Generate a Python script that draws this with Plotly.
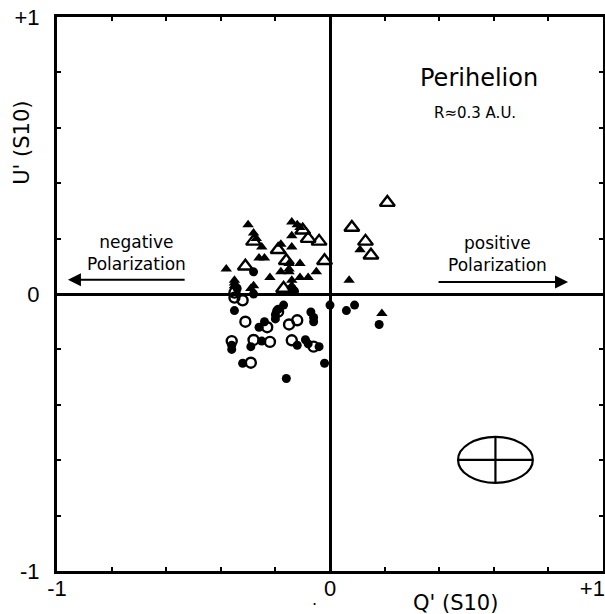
import plotly.graph_objects as go

# ---- data (Q', U') ----
open_tri_q = [0.21, 0.08, 0.13, 0.15, -0.28, -0.10, -0.08, -0.04, -0.19, -0.16, -0.02, -0.31, -0.17]
open_tri_u = [0.33, 0.24, 0.19, 0.14, 0.19, 0.23, 0.20, 0.19, 0.16, 0.12, 0.12, 0.10, 0.02]

fill_tri_q = [-0.30, -0.28, -0.27, -0.25, -0.14, -0.14, -0.12, -0.11, -0.18, -0.14, -0.26, -0.24,
              -0.15, -0.11, -0.38, -0.18, -0.15, -0.22, -0.14, -0.11, -0.08, -0.05, -0.35, -0.35,
              -0.28, -0.29, 0.11, 0.07, 0.19, -0.15, -0.14, -0.35]
fill_tri_u = [0.25, 0.22, 0.20, 0.17, 0.21, 0.26, 0.25, 0.24, 0.18, 0.17, 0.13, 0.13,
              0.11, 0.11, 0.09, 0.08, 0.08, 0.06, 0.05, 0.06, 0.06, 0.08, 0.05, 0.03,
              0.03, 0.02, 0.16, 0.05, -0.07, 0.09, 0.03, 0.04]

fill_circ_q = [-0.28, -0.34, -0.28, -0.14, -0.13, -0.35, -0.17, -0.19, -0.20, -0.20, -0.07, -0.06,
               0.00, 0.06, 0.09, 0.18, -0.24, -0.26, -0.36, -0.29, -0.25, -0.12, -0.09, -0.08,
               -0.04, -0.32, -0.02, -0.16, -0.36, -0.06]
fill_circ_u = [0.08, 0.02, 0.00, 0.02, 0.01, -0.06, -0.04, -0.055, -0.075, -0.09, -0.065, -0.085,
               -0.04, -0.06, -0.04, -0.11, -0.10, -0.12, -0.20, -0.19, -0.17, -0.185, -0.165, -0.18,
               -0.19, -0.25, -0.25, -0.305, -0.185, -0.10]

open_circ_q = [-0.35, -0.32, -0.35, -0.31, -0.23, -0.19, -0.15, -0.12, -0.36, -0.28, -0.22, -0.14,
               -0.06, -0.29]
open_circ_u = [-0.013, -0.023, 0.005, -0.10, -0.12, -0.064, -0.11, -0.095, -0.17, -0.166, -0.173, -0.167,
               -0.19, -0.248]

tick_vals = [-1, -0.8, -0.6, -0.4, -0.2, 0, 0.2, 0.4, 0.6, 0.8, 1]
x_tick_text = ["-1", "", "", "", "", "0", "", "", "", "", "+1<span style='color:rgba(0,0,0,0)'>11</span>"]
y_tick_text = ["-1", "", "", "", "", "0", "", "", "", "", "+1"]

# error ellipse (centre, half-axes)
ell_q, ell_u, ell_rq, ell_ru = 0.606, -0.599, 0.137, 0.083

TICKFONT = "Liberation Sans"
FONT = "DejaVu Sans"

fig = go.Figure()
fig.add_trace(go.Scatter(x=open_tri_q, y=open_tri_u, mode="markers",
                         marker=dict(symbol="triangle-up-open", size=13, color="black",
                                     line=dict(width=2.4, color="black"))))
fig.add_trace(go.Scatter(x=fill_tri_q, y=fill_tri_u, mode="markers",
                         marker=dict(symbol="triangle-up", size=10, color="black")))
fig.add_trace(go.Scatter(x=fill_circ_q, y=fill_circ_u, mode="markers",
                         marker=dict(symbol="circle", size=9, color="black")))
fig.add_trace(go.Scatter(x=open_circ_q, y=open_circ_u, mode="markers",
                         marker=dict(symbol="circle-open", size=10, color="black",
                                     line=dict(width=2.4, color="black"))))

axis_common = dict(range=[-1, 1], tickvals=tick_vals, automargin=False,
                   ticks="inside", ticklen=4, tickwidth=2, tickcolor="black",
                   showline=True, linewidth=3, linecolor="black", mirror="ticks",
                   showgrid=False, zeroline=True, zerolinecolor="black", zerolinewidth=2.5,
                   ticklabeloverflow="allow",
                   tickfont=dict(family=TICKFONT, size=22, color="black"))

fig.update_xaxes(**axis_common, ticktext=x_tick_text, ticklabelstandoff=-4)
fig.update_yaxes(**axis_common, ticktext=y_tick_text, ticklabelstandoff=10)

shapes = [
    dict(type="circle", xref="x", yref="y", x0=ell_q - ell_rq, x1=ell_q + ell_rq,
         y0=ell_u - ell_ru, y1=ell_u + ell_ru, line=dict(color="black", width=2.2)),
    dict(type="line", xref="x", yref="y", x0=ell_q - ell_rq, x1=ell_q + ell_rq,
         y0=ell_u, y1=ell_u, line=dict(color="black", width=2.2)),
    dict(type="line", xref="x", yref="y", x0=ell_q, x1=ell_q,
         y0=ell_u - ell_ru, y1=ell_u + ell_ru, line=dict(color="black", width=2.2)),
]

C = dict(xanchor="center", yanchor="middle", showarrow=False)
annotations = [
    dict(x=0.546, y=0.78, xref="x", yref="y", text="Perihelion",
         font=dict(family=FONT, size=24, color="black"), **C),
    dict(x=0.531, y=0.653, xref="x", yref="y", text="R≈0.3 A.U.",
         font=dict(family=FONT, size=15, color="black"), **C),
    dict(x=-0.71, y=0.148, xref="x", yref="y", text="negative<br>Polarization",
         font=dict(family=FONT, size=17, color="black"), **C),
    dict(x=0.615, y=0.144, xref="x", yref="y", text="positive<br>Polarization",
         font=dict(family=FONT, size=17, color="black"), **C),
    dict(x=-0.96, y=0.051, ax=-0.527, ay=0.051, xref="x", yref="y", axref="x", ayref="y",
         text="", showarrow=True, arrowhead=2, arrowsize=1.3, arrowwidth=2, arrowcolor="black"),
    dict(x=0.872, y=0.043, ax=0.392, ay=0.043, xref="x", yref="y", axref="x", ayref="y",
         text="", showarrow=True, arrowhead=2, arrowsize=1.3, arrowwidth=2, arrowcolor="black"),
    dict(x=-0.064, y=0.773, xref="paper", yref="paper", text="U' (S10)", textangle=-90,
         font=dict(family=FONT, size=21, color="black"), **C),
    dict(x=0.729, y=-0.058, xref="paper", yref="paper", text="Q' (S10)",
         font=dict(family=FONT, size=21, color="black"), **C),
    dict(x=0.471, y=-0.052, xref="paper", yref="paper", text=".",
         font=dict(family=FONT, size=16, color="black"), **C),
]

fig.update_layout(width=605, height=614, margin=dict(l=57, r=2, t=17, b=43, autoexpand=False),
                  paper_bgcolor="white", plot_bgcolor="white", showlegend=False,
                  shapes=shapes, annotations=annotations)

fig.write_html("out.html")
